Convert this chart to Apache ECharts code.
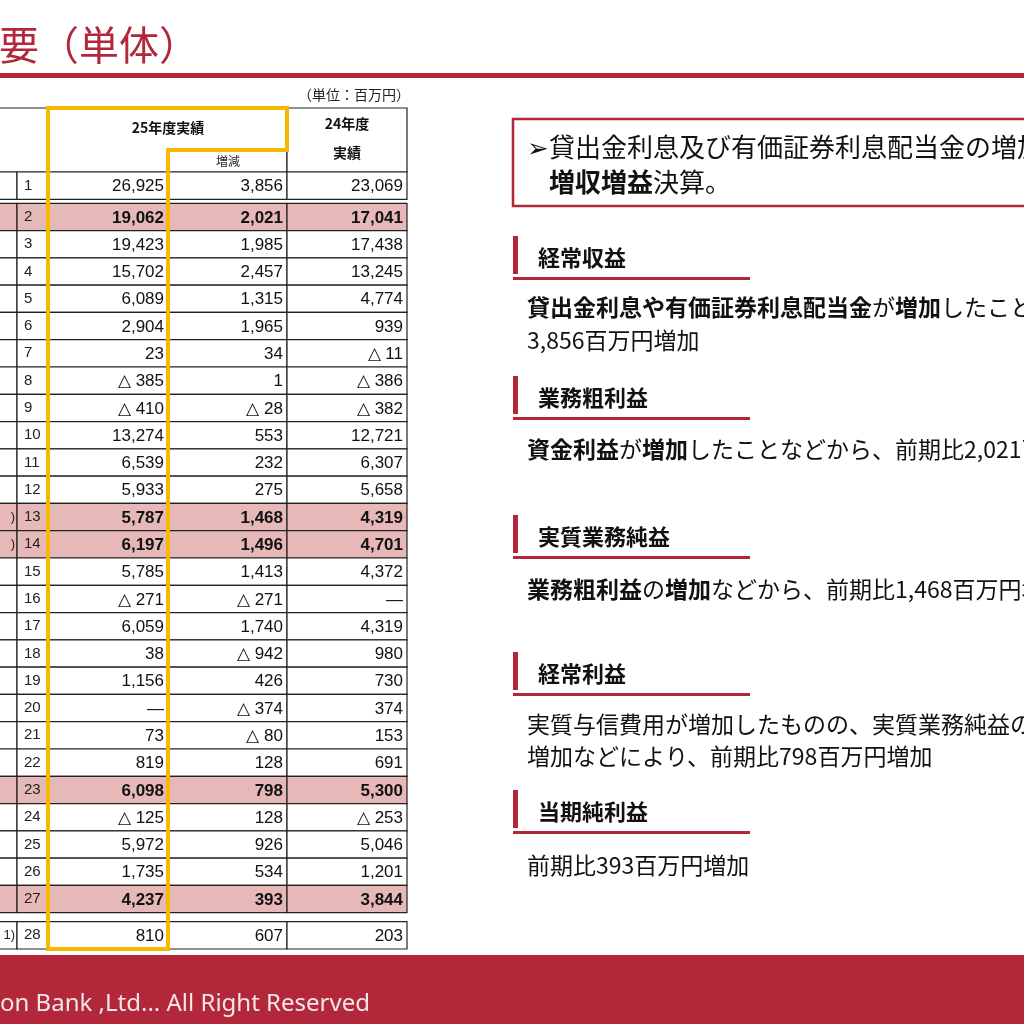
<!DOCTYPE html>
<html><head><meta charset="utf-8">
<script src="https://cdn.jsdelivr.net/npm/echarts@6/dist/echarts.min.js"></script>
<style>html,body{margin:0;padding:0;background:#fff}#c{width:1024px;height:1024px}</style>
</head><body><div id="c"></div>
<script>
// 行番号と数値（△はマイナス、null は「―」）
var rowNo = [1,2,3,4,5,6,7,8,9,10,11,12,13,14,15,16,17,18,19,20,21,22,23,24,25,26,27,28];
var cur25 = [26925,19062,19423,15702,6089,2904,23,-385,-410,13274,6539,5933,5787,6197,5785,-271,6059,38,1156,null,73,819,6098,-125,5972,1735,4237,810];
var chg25 = [3856,2021,1985,2457,1315,1965,34,1,-28,553,232,275,1468,1496,1413,-271,1740,-942,426,-374,-80,128,798,128,926,534,393,607];
var prev24 = [23069,17041,17438,13245,4774,939,-11,-386,-382,12721,6307,5658,4319,4701,4372,null,4319,980,730,374,153,691,5300,-253,5046,1201,3844,203];
var boldRows = [2,13,14,23,27];
var labelTail = {13:')',14:')',28:'1)'};

function fmt(v){
  if (v === null) return '―';
  var s = Math.abs(v).toLocaleString('en-US');
  return v < 0 ? '△ ' + s : s;
}

var chart = echarts.init(document.getElementById('c'));
var NUM = 'Liberation Sans, Arial, sans-serif';
var JP = '"Noto Sans CJK JP", sans-serif';
// 列の境界 (px)
var cols = [-5, 17, 48, 168, 287, 407];

function renderRow(params, api){
  var i = api.value(0);
  var no = rowNo[i];
  var y = api.coord([0, i])[1];
  var h = api.size([0, 1])[1];
  if (no === 1) y -= 4;
  if (no === 28) y += 9;
  var top = y - h / 2;
  var bold = boldRows.indexOf(no) >= 0;
  var fill = bold ? '#e6b9b8' : '#fff';
  var ch = [];
  for (var c = 0; c < 5; c++) {
    ch.push({type:'rect', shape:{x:cols[c], y:top, width:cols[c+1]-cols[c], height:h},
      style:{fill:fill, stroke:'#222', lineWidth:1.2}});
  }
  if (labelTail[no]) ch.push({type:'text', style:{text:labelTail[no], x:15, y:y, align:'right', verticalAlign:'middle', font:'13px '+NUM, fill:'#222'}});
  ch.push({type:'text', style:{text:String(no), x:24, y:y, align:'left', verticalAlign:'middle', font:'15px '+NUM, fill:'#222'}});
  var vals = [cur25[i], chg25[i], prev24[i]];
  for (var k = 0; k < 3; k++) {
    ch.push({type:'text', style:{text:fmt(vals[k]), x:cols[k+3]-4, y:y+1, align:'right', verticalAlign:'middle',
      font:(bold?'bold ':'')+'17px '+NUM, fill:'#111'}});
  }
  return {type:'group', children:ch};
}

var red = '#b2273a';
function heading(t, y){
  return [
    {type:'rect', shape:{x:513, y:y-22, width:5, height:38}, style:{fill:red}},
    {type:'rect', shape:{x:513, y:y+19, width:237, height:3}, style:{fill:red}},
    {type:'text', style:{text:t, x:538, y:y, verticalAlign:'middle', font:'bold 22px '+JP, fill:'#111'}}
  ];
}
function body(rich, y){
  return {type:'text', style:{text:rich, x:527, y:y, verticalAlign:'middle', font:'23px '+JP, fill:'#111',
    rich:{b:{fontWeight:'bold', fontSize:23, fontFamily:'Noto Sans CJK JP'}, n:{fontSize:23, fontFamily:'Noto Sans CJK JP'}}}};
}

var g = [
  {type:'text', style:{text:'概要（単体）', x:-41, y:45, verticalAlign:'middle', font:'40px '+JP, fill:red}},
  {type:'rect', shape:{x:0, y:73, width:1024, height:5}, style:{fill:red}},
  {type:'rect', shape:{x:0, y:955, width:1024, height:69}, style:{fill:red}},
  {type:'text', style:{text:'on Bank ,Ltd... All Right Reserved', x:0, y:1004, verticalAlign:'middle', font:'24px "Noto Sans", sans-serif', fill:'#f4e6e8'}},
  {type:'text', style:{text:'（単位：百万円）', x:410, y:95, align:'right', verticalAlign:'middle', font:'14px '+JP, fill:'#222'}},
  // ヘッダー
  {type:'rect', shape:{x:-5, y:108, width:53, height:64}, style:{fill:'#fff', stroke:'#222', lineWidth:1.2}},
  {type:'rect', shape:{x:48, y:108, width:239, height:64}, style:{fill:'#fff', stroke:'#222', lineWidth:1.2}},
  {type:'rect', shape:{x:168, y:150, width:119, height:22}, style:{fill:'#fff', stroke:'#222', lineWidth:1.2}},
  {type:'rect', shape:{x:287, y:108, width:120, height:64}, style:{fill:'#fff', stroke:'#222', lineWidth:1.2}},
  {type:'text', style:{text:'25年度実績', x:168, y:128, align:'center', verticalAlign:'middle', font:'bold 14px '+JP, fill:'#111'}},
  {type:'text', style:{text:'増減', x:228, y:161, align:'center', verticalAlign:'middle', font:'12px '+JP, fill:'#222'}},
  {type:'text', style:{text:'24年度', x:347, y:124, align:'center', verticalAlign:'middle', font:'bold 14px '+JP, fill:'#111'}},
  {type:'text', style:{text:'実績', x:347, y:153, align:'center', verticalAlign:'middle', font:'bold 14px '+JP, fill:'#111'}},
  // 右側の説明
  {type:'rect', shape:{x:513, y:119, width:530, height:87}, style:{fill:'#fff', stroke:red, lineWidth:2.5}},
  {type:'text', style:{text:'➢貸出金利息及び有価証券利息配当金の増加などにより', x:527, y:147, verticalAlign:'middle', font:'26px '+JP, fill:'#111'}},
  {type:'text', style:{text:'{b|増収増益}決算。', x:549, y:182, verticalAlign:'middle', font:'26px '+JP, fill:'#111',
    rich:{b:{fontWeight:'bold', fontSize:26, fontFamily:'Noto Sans CJK JP'}}}},
  body('{b|貸出金利息や有価証券利息配当金}{n|が}{b|増加}{n|したことなどから、前期比}', 307),
  body('{n|3,856百万円増加}', 340),
  body('{b|資金利益}{n|が}{b|増加}{n|したことなどから、前期比2,021百万円増加}', 449),
  body('{b|業務粗利益}{n|の}{b|増加}{n|などから、前期比1,468百万円増加}', 589),
  body('{n|実質与信費用が増加したものの、実質業務純益の}', 724),
  body('{n|増加などにより、前期比798百万円増加}', 756),
  body('{n|前期比393百万円増加}', 865)
];
g = g.concat(heading('経常収益', 258), heading('業務粗利益', 398), heading('実質業務純益', 537),
  heading('経常利益', 674), heading('当期純利益', 812));

var option = {
  backgroundColor: '#fff',
  animation: false,
  grid: {left: 0, right: 0, top: 176, height: 764},
  xAxis: {type: 'value', min: 0, max: 1, show: false},
  yAxis: {type: 'category', inverse: true, data: rowNo, show: false},
  series: [{
    type: 'custom',
    renderItem: renderRow,
    data: rowNo.map(function(n, i){ return [i]; }),
    encode: {y: 0},
    z: 1
  }, {
    // 25年度実績の黄色枠
    type: 'custom',
    renderItem: function(p, api){
      var bottom = api.coord([0, 27])[1] + api.size([0,1])[1]/2 + 9;
      return {type:'polygon', shape:{points:[[48,108],[287,108],[287,150],[168,150],[168,bottom],[48,bottom]]},
        style:{fill:'none', stroke:'#f6b800', lineWidth:4}};
    },
    data: [[0]],
    z: 5
  }],
  graphic: g
};
chart.setOption(option);
</script></body></html>
